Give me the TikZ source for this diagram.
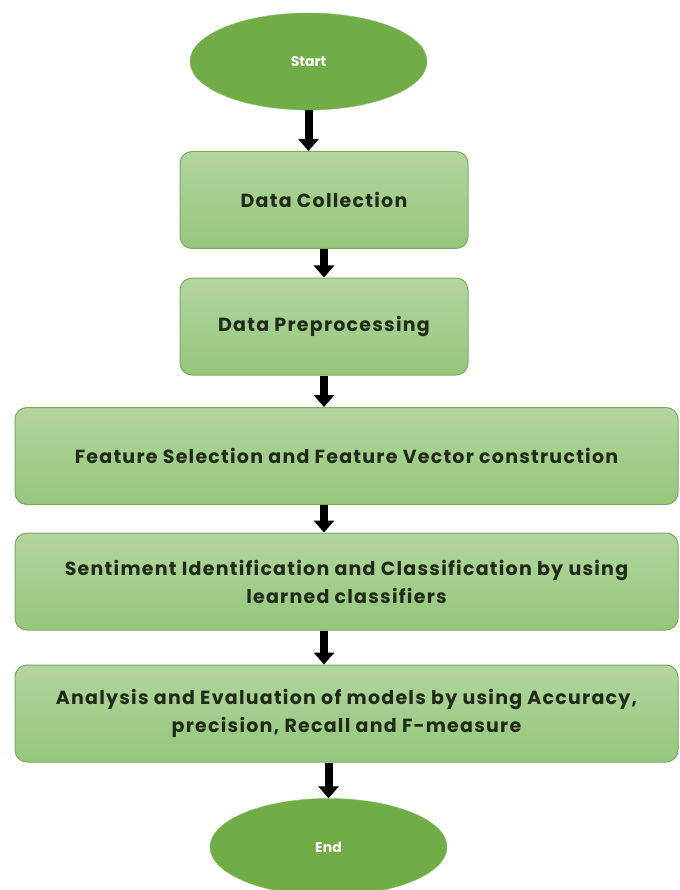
\documentclass[tikz,border=0pt]{standalone}
\usepackage{fontspec}
\setmainfont{Poppins}
\newfontfamily\boxfont{Poppins}[LetterSpace=6.5]
\usetikzlibrary{shapes.geometric,arrows.meta}
\definecolor{termgreen}{HTML}{70AD47}
\definecolor{boxtop}{HTML}{B2D69F}
\definecolor{boxbot}{HTML}{95C67B}
\definecolor{boxline}{HTML}{7EA767}
\definecolor{boxtext}{HTML}{1F2A17}
\begin{document}
\begin{tikzpicture}[x=1pt,y=-1pt,
  term/.style={ellipse, fill=termgreen, draw=termgreen!85!white, minimum width=237pt, minimum height=97pt, text=white, font=\bfseries\fontsize{14}{16}\selectfont},
  stepbox/.style={rectangle, rounded corners=12pt, draw=boxline, line width=1pt, top color=boxtop, bottom color=boxbot, minimum height=97pt, text=boxtext, align=center, font=\boxfont\bfseries\fontsize{19}{28}\selectfont},
  flow/.style={line width=8pt, -{Triangle[width=20pt,length=12pt]}}]
\useasboundingbox[fill=white] (0,0) rectangle (679,890);

\node [term] (start) at (308.5,61.5) {Start};
\node [stepbox, minimum width=288pt] (collect) at (324,200) {Data Collection};
\node [stepbox, minimum width=288pt] (prep) at (324,326.5) {Data Preprocessing};
\node [stepbox, minimum width=663pt] (feature) at (346.5,456) {Feature Selection and Feature Vector construction};
\node [stepbox, minimum width=663pt] (classify) at (346.5,581.5) {Sentiment Identification and Classification by using\\ learned classifiers};
\node [stepbox, minimum width=663pt] (evaluate) at (346.5,713.5) {Analysis and Evaluation of models by using Accuracy,\\ precision, Recall and F-measure};
\node [term] (stop) at (328.5,847) {End};

\draw [flow] (start.south) -- (start.south |- collect.north);
\draw [flow] (collect.south) -- (prep.north);
\draw [flow] (prep.south) -- (prep.south |- feature.north);
\draw [flow] (prep.south |- feature.south) -- (prep.south |- classify.north);
\draw [flow] (prep.south |- classify.south) -- (prep.south |- evaluate.north);
\draw [flow] (evaluate.south -| stop.north) -- (stop.north);
\end{tikzpicture}
\end{document}
